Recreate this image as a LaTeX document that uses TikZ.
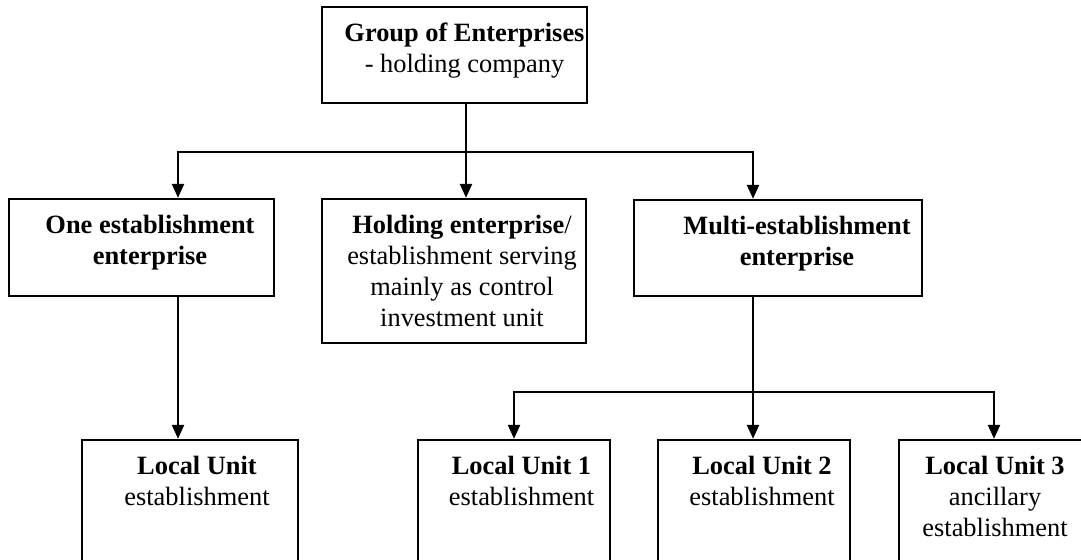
\documentclass[tikz,border=0pt]{standalone}
\usepackage{fontspec}
\setmainfont{Liberation Serif}
\usetikzlibrary{positioning, arrows.meta}

\begin{document}
\begin{tikzpicture}[x=0.5pt, y=-0.5pt,
    box/.style={draw, line width=1.2pt, inner sep=0pt},
    unitbox/.style={box, minimum width=96pt, minimum height=80pt},
    lbl/.style={align=center, inner sep=0pt, font=\fontsize{13.2}{15.5}\selectfont},
    link/.style={line width=1.2pt},
    arr/.style={link, -{Triangle[width=6pt, length=7pt]}}
  ]
  \useasboundingbox (0,0) rectangle (1081,559);
  \clip (0,0) rectangle (1081,559);

  % top level
  \node[box, minimum width=132.5pt, minimum height=48pt] (grp) at (454.5,55) {};
  \node[lbl, below=8.5pt of grp.north, xshift=5pt] (grptxt)
    {\textbf{Group of Enterprises}\\- holding company};

  % enterprises
  \node[box, minimum width=132.5pt, minimum height=48.5pt] (one) at (141.5,247.5) {};
  \node[box, minimum width=132pt, minimum height=72pt] (hold) at (454,271) {};
  \node[box, minimum width=144pt, minimum height=48pt] (multi) at (778,248) {};
  \node[lbl, below=8.5pt of one.north, xshift=4.25pt] (onetxt)
    {\textbf{One establishment}\\\textbf{enterprise}};
  \node[lbl, below=8.5pt of hold.north, xshift=4pt] (holdtxt)
    {\textbf{Holding enterprise}/\\establishment serving\\mainly as control\\investment unit};
  \node[lbl, below=8.5pt of multi.north, xshift=9.5pt] (multitxt)
    {\textbf{Multi-establishment}\\\textbf{enterprise}};

  % local units
  \node[unitbox, minimum width=108pt] (lu) at (190,520) {};
  \node[unitbox] (lu1) at (514,520) {};
  \node[unitbox] (lu2) at (754,520) {};
  \node[unitbox, minimum width=104pt] (lu3) at (1003,520) {};
  \node[lbl, below=8.5pt of lu.north, xshift=3.5pt] (lutxt)
    {\textbf{Local Unit}\\establishment};
  \node[lbl, below=8.5pt of lu1.north, xshift=3.75pt] (lu1txt)
    {\textbf{Local Unit 1}\\establishment};
  \node[lbl, below=8.5pt of lu2.north, xshift=4pt] (lu2txt)
    {\textbf{Local Unit 2}\\establishment};
  \node[lbl, below=8.5pt of lu3.north, xshift=-4pt] (lu3txt)
    {\textbf{Local Unit 3}\\ancillary\\establishment};

  % connectors
  \coordinate (bus) at (466,152);
  \coordinate (bus2) at (753,392);
  \draw[link] (grp.south -| bus) -- (bus);
  \draw[arr] (bus) -| ([xshift=18.25pt]one.north);
  \draw[arr] (bus) -- (hold.north -| bus);
  \draw[arr] (bus) -| ([xshift=-12.5pt]multi.north);
  \draw[arr] ([xshift=18.25pt]one.south) -- ([xshift=-6pt]lu.north);
  \draw[link] (multi.south -| bus2) -- (bus2);
  \draw[arr] (bus2) -| (lu1.north);
  \draw[arr] (bus2) -- (lu2.north -| bus2);
  \draw[arr] (bus2) -| ([xshift=-4.5pt]lu3.north);
\end{tikzpicture}
\end{document}
